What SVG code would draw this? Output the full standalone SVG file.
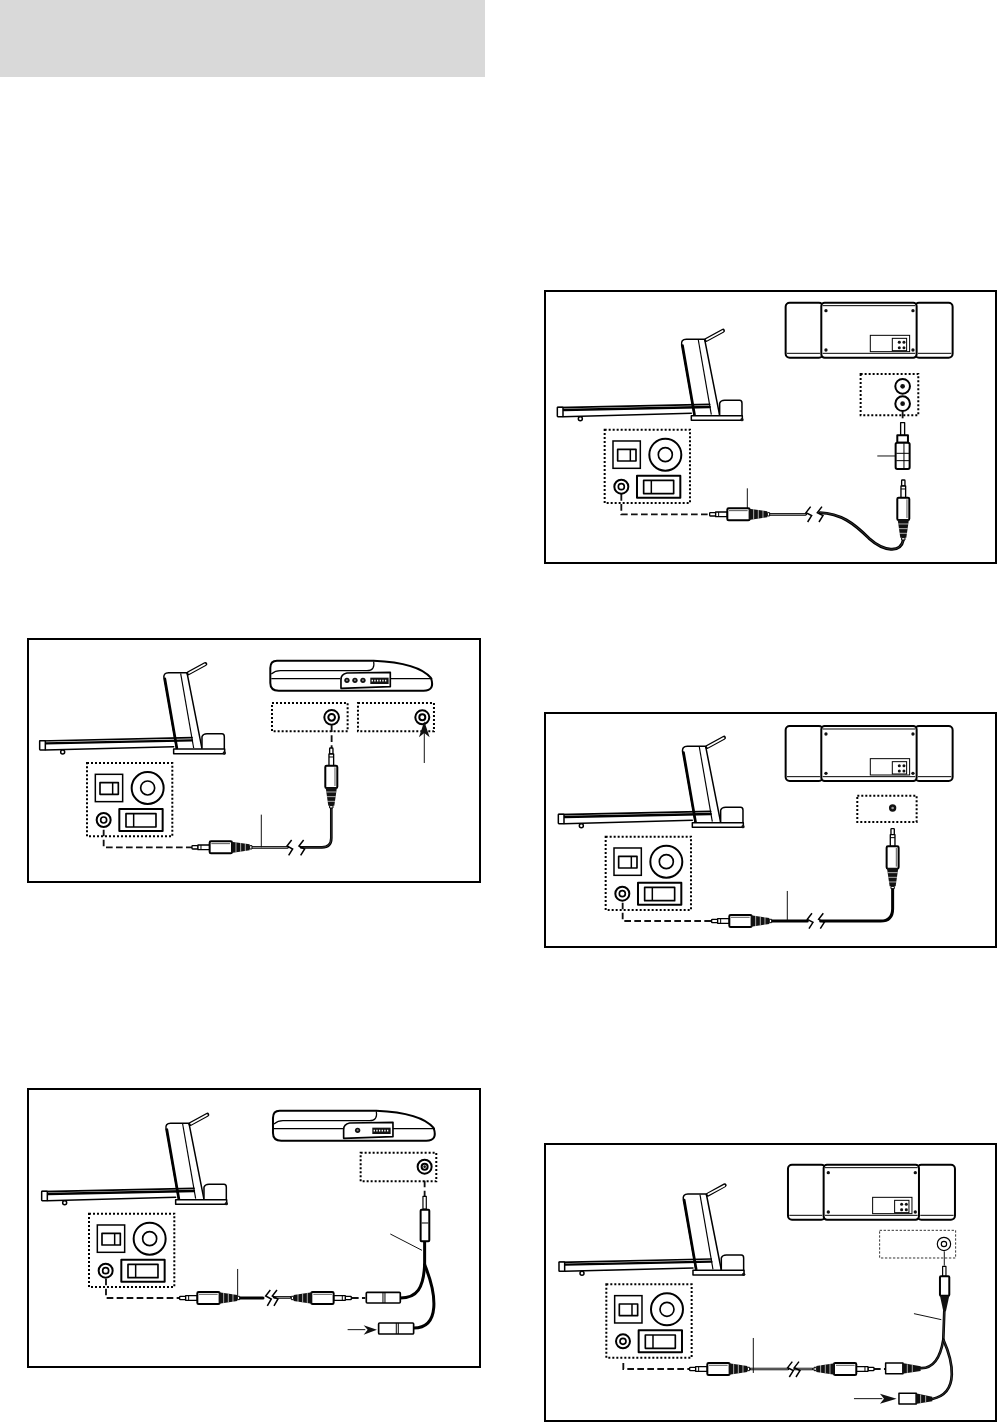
<svg xmlns="http://www.w3.org/2000/svg" xmlns:xlink="http://www.w3.org/1999/xlink" width="997" height="1422" viewBox="0 0 997 1422">
<style>
.frame{fill:#fff;stroke:#000;stroke-width:2}
.o{fill:#fff;stroke:#000;stroke-width:6;stroke-linejoin:round}
.n{fill:none;stroke:#000;stroke-width:5;stroke-linejoin:round;stroke-linecap:round}
.t{fill:none;stroke:#000;stroke-width:3}
.f{fill:#fff;stroke:#000;stroke-width:4.5;stroke-linejoin:round}
.k{fill:#111}
.dot{fill:none;stroke:#000;stroke-width:6;stroke-dasharray:6 6}
.dash{fill:none;stroke:#111;stroke-width:5.5;stroke-dasharray:20 10}
.lead{fill:none;stroke:#111;stroke-width:3}
.cb{fill:none;stroke:#000;stroke-width:8;stroke-linecap:round}
.cw{fill:none;stroke:#fff;stroke-width:2}
.cg{fill:none;stroke:#666;stroke-width:1.5}
.zig{fill:none;stroke:#000;stroke-width:4.5;stroke-linejoin:miter}
</style>
<defs>
<g id="treadmill">
<path class="n" d="M448,332L411,122Q408,104 425,104L480,104L525,332" style="stroke-width:4.5"/>
<path class="t" d="M461,106L500,330" style="stroke-width:3.5"/>
<path d="M484,106L535,78" stroke="#000" stroke-width="12" stroke-linecap="round"/>
<path d="M486,105L534,79" stroke="#fff" stroke-width="5" stroke-linecap="round"/>
<path class="n" d="M39,309L495,299" style="stroke-width:5"/>
<path class="n" d="M57,316L495,307" style="stroke-width:7"/>
<path class="n" d="M55,336L440,326" style="stroke-width:4.5"/>
<rect class="f" x="38" y="308" width="17" height="28" rx="2"/>
<circle class="f" cx="107" cy="342" r="6"/>
<path class="f" d="M525,332L525,296Q528,287 540,287L585,287Q592,287 592,296L592,340"/>
<rect class="f" x="440" y="333" width="153" height="14"/>
<circle class="k" cx="592" cy="345" r="5"/>
<path class="n" d="M414,122L450,330" style="stroke-width:7"/>
</g>
<g id="console">
<rect class="dot" x="180" y="375" width="256" height="220"/>
<rect x="205" y="409" width="82" height="82" fill="#fff" stroke="#000" stroke-width="4.5"/>
<rect class="o" x="219" y="434" width="55" height="35" style="stroke-width:5"/>
<path class="t" d="M257,434V469" style="stroke-width:4.5"/>
<circle class="o" cx="362" cy="450" r="48"/>
<circle class="o" cx="362" cy="450" r="21" style="stroke-width:5"/>
<circle class="o" cx="230" cy="546" r="21"/>
<circle class="o" cx="230" cy="546" r="9" style="stroke-width:5"/>
<rect class="o" x="277" y="513" width="130" height="66"/>
<rect class="o" x="297" y="527" width="90" height="40" style="stroke-width:5"/>
<path class="t" d="M320,527V567" style="stroke-width:4.5"/>
</g>
<g id="plug">
<rect class="f" x="0" y="-5" width="18" height="10" rx="2" style="stroke-width:4"/>
<rect class="f" x="18" y="-7" width="35" height="14" style="stroke-width:4"/>
<path class="t" d="M27,-7V7"/>
<rect class="o" x="53" y="-18" width="67" height="36" rx="4"/>
<path class="t" d="M58,-11H114" style="stroke-width:2"/>
<path class="k" d="M118,-17L173,-9V9L118,17Z"/>
<path d="M132,-15V15M146,-13V13M160,-12V12" stroke="#fff" stroke-width="2"/>
<rect class="f" x="173" y="-5" width="7" height="10" style="stroke-width:3"/>
</g>
<g id="player">
<path class="o" d="M750,68L1040,68Q1175,74 1212,120Q1225,158 1190,158L755,158Q730,158 730,135L730,90Q730,68 750,68Z"/>
<path class="t" d="M1040,70Q1045,98 1020,98L760,98Q745,98 733,108M733,122H940M1090,122H1216" style="stroke-width:3.5"/>
<path class="o" d="M1090,103L960,105Q942,108 942,125L942,151L1090,146Z" style="stroke-width:5"/>
</g>
<g id="speaker">
<rect class="o" x="725" y="38" width="112" height="165" rx="12"/>
<rect class="o" x="1113" y="38" width="113" height="165" rx="12"/>
<rect class="o" x="832" y="38" width="286" height="165" rx="10"/>
<path class="t" d="M836,47H1114M836,190H1114M729,190H828M1122,190H1222" style="stroke-width:3"/>
<circle class="k" cx="846" cy="62" r="5"/><circle class="k" cx="1107" cy="62" r="5"/>
<circle class="k" cx="846" cy="180" r="5"/><circle class="k" cx="1107" cy="180" r="5"/>
<rect fill="#fff" stroke="#000" stroke-width="3" x="979" y="136" width="118" height="49"/>
<rect fill="#fff" stroke="#000" stroke-width="3" x="1045" y="145" width="43" height="37"/>
<circle class="k" cx="1066" cy="157" r="4.5"/><circle class="k" cx="1080" cy="157" r="4.5"/>
<circle class="k" cx="1066" cy="173" r="4.5"/><circle class="k" cx="1080" cy="173" r="4.5"/>
</g>
<g id="tread-set"><use href="#treadmill"/><use href="#console"/></g>
</defs>

<rect id="header" x="0" y="0" width="485" height="77" fill="#d9d9d9"/>

<g id="frames">
<rect class="frame" x="28" y="639" width="452" height="243"/>
<rect class="frame" x="28" y="1089" width="452" height="278"/>
<rect class="frame" x="545" y="291" width="451" height="272"/>
<rect class="frame" x="545" y="713" width="451" height="234"/>
<rect class="frame" x="545" y="1144" width="451" height="277"/>
</g>

<g id="connectors">
<g transform="translate(27,638) scale(.3333)">
<path class="dash" d="M230,575V628H495"/>
<path class="dash" d="M914,262V330" stroke-dasharray="10 6"/>
<path class="cb" d="M675,628H782"/><path class="cw" d="M675,628H782"/>
<path class="cb" d="M822,628H885Q913,628 913,600V510"/><path class="cg" d="M822,628H885Q913,628 913,600V510"/>
<path class="zig" d="M794,606L780,624L797,633L785,652M830,606L816,624L833,633L821,652"/>
<path class="lead" d="M703,530V628"/>
<path class="lead" d="M1192,375V280"/>
</g>
<g transform="translate(27,1088) scale(.3333)">
<path class="dash" d="M237,572V630H458"/>
<path class="dash" d="M1193,278V325" stroke-dasharray="10 6"/>
<path class="dash" d="M975,630H1015"/>
<path class="cb" d="M635,630H708" style="stroke-width:9"/>
<path class="cb" d="M742,628H790"/><path class="cw" d="M742,628H790"/>
<path class="zig" d="M730,606L716,624L733,633L721,654M750,606L736,624L753,633L741,654"/>
<path class="cb" d="M1193,460V530C1190,600 1170,630 1120,630" style="stroke-width:9"/>
<path class="cb" d="M1193,530C1230,620 1240,720 1160,720" style="stroke-width:9"/>
<path class="lead" d="M632,543V625"/>
<path class="lead" d="M1090,438L1185,487"/>
<path class="lead" d="M962,725H1015"/>
</g>
<g transform="translate(544,290) scale(.3333)">
<path class="dash" d="M232,612V673H497"/>
<path class="dash" d="M1076,365V395" stroke-dasharray="10 6"/>
<path class="cb" d="M675,673H785"/><path class="cw" d="M675,673H785"/>
<path class="cb" d="M828,668C890,670 930,700 975,745C1020,785 1070,790 1078,750" style="stroke-width:9"/><path class="cg" d="M828,668C890,670 930,700 975,745C1020,785 1070,790 1078,750"/>
<path class="zig" d="M800,650L786,668L803,677L791,696M834,650L820,668L837,677L825,696"/>
<path class="lead" d="M610,595V660"/>
<path class="lead" d="M1000,498H1060"/>
</g>
<g transform="translate(544,712) scale(.3333)">
<path class="dash" d="M236,572V627H503"/>
<path class="cb" d="M683,627H790" style="stroke-width:9"/>
<path class="cb" d="M830,627H1010Q1046,627 1046,590V525" style="stroke-width:9"/>
<path class="zig" d="M804,604L790,622L807,631L795,650M838,604L824,622L841,631L829,650"/>
<path class="lead" d="M730,537V625"/>
</g>
<g transform="translate(544,1143) scale(.3333)">
<path class="dash" d="M238,660V678H437"/>
<path class="dash" d="M990,678H1028" stroke-dasharray="10 14"/>
<path class="lead" d="M1201,325V368"/>
<path class="cb" d="M620,678H732"/><path class="cw" d="M620,678H732"/>
<path class="cb" d="M752,678H805"/><path class="cw" d="M752,678H805"/>
<path class="zig" d="M745,656L731,674L748,683L736,702M765,656L751,674L768,683L756,702"/>
<path class="cb" d="M1201,505L1198,590C1190,640 1170,680 1125,675"/><path class="cg" d="M1201,505L1198,590C1190,640 1170,680 1125,675"/>
<path class="cb" d="M1198,590C1225,650 1250,750 1165,768"/><path class="cg" d="M1198,590C1225,650 1250,750 1165,768"/>
<path class="lead" d="M628,585V690"/>
<path class="lead" d="M1110,512L1192,530"/>
<path class="lead" d="M930,767H1015"/>
</g>
</g>

<g id="panel1" transform="translate(27,638) scale(.3333)">
<g id="p1-treadmill"><use href="#tread-set"/></g>
<g id="p1-player"><use href="#player"/>
<circle class="k" cx="960" cy="127" r="8"/><circle class="k" cx="984" cy="127" r="8"/><circle class="k" cx="1008" cy="127" r="8"/>
<circle fill="#888" cx="960" cy="127" r="3"/><circle fill="#888" cx="984" cy="127" r="3"/><circle fill="#888" cx="1008" cy="127" r="3"/>
<rect x="1030" y="119" width="55" height="19" fill="#111"/><path d="M1034,128H1082" stroke="#fff" stroke-width="5" stroke-dasharray="4 4"/>
</g>
<g id="p1-jack-a"><rect class="dot" x="735" y="195" width="227" height="85"/><circle class="o" cx="914" cy="238" r="22"/><circle class="o" cx="914" cy="238" r="10"/></g>
<g id="p1-jack-b"><rect class="dot" x="993" y="195" width="228" height="85"/><circle class="o" cx="1186" cy="238" r="21"/><circle class="o" cx="1186" cy="238" r="9"/>
<path class="k" d="M1192,250L1208,298L1192,285L1176,298Z"/></g>
<g id="p1-plug-a"><use href="#plug" transform="translate(495,628)"/></g>
<g id="p1-plug-b"><use href="#plug" transform="translate(913,330) rotate(90)"/></g>
</g>

<g id="panel2" transform="translate(27,1088) scale(.3333)">
<g id="p2-treadmill"><use href="#tread-set" transform="translate(6,2)"/></g>
<g id="p2-player"><use href="#player" transform="translate(8,0)"/>
<circle class="k" cx="992" cy="127" r="8"/><circle fill="#888" cx="992" cy="127" r="3"/>
<rect x="1036" y="119" width="55" height="19" fill="#111"/><path d="M1040,128H1088" stroke="#fff" stroke-width="5" stroke-dasharray="4 4"/>
</g>
<g id="p2-jack"><rect class="dot" x="1001" y="194" width="227" height="86"/><circle class="o" cx="1193" cy="236" r="21"/><circle class="o" cx="1193" cy="236" r="9"/><circle class="k" cx="1193" cy="236" r="4"/></g>
<g id="p2-plug-a"><use href="#plug" transform="translate(458,630)"/></g>
<g id="p2-plug-b"><use href="#plug" transform="translate(973,630) scale(-1,1)"/></g>
<g id="p2-plug-c"><rect class="f" x="1188" y="325" width="10" height="38" style="stroke-width:3.5"/><rect class="o" x="1181" y="365" width="26" height="95" rx="3"/><path class="t" d="M1184,405H1204"/></g>
<g id="p2-female-a"><rect class="f" x="1018" y="613" width="102" height="32" rx="3" style="stroke-width:5"/><path class="t" d="M1068,613V645M1074,613V645"/></g>
<g id="p2-female-b"><rect class="f" x="1055" y="705" width="105" height="33" rx="3" style="stroke-width:5"/><path class="t" d="M1108,705V738M1114,705V738"/></g>
<path class="k" d="M1050,725L1010,712L1022,725L1010,740Z"/>
</g>

<g id="panel3" transform="translate(544,290) scale(.3333)">
<g id="p3-treadmill"><use href="#tread-set" transform="translate(2,44)"/></g>
<g id="p3-speaker"><use href="#speaker"/></g>
<g id="p3-jacks"><rect class="dot" x="950" y="252" width="173" height="124"/>
<circle class="o" cx="1076" cy="289" r="22"/><circle class="k" cx="1076" cy="289" r="7"/>
<circle class="o" cx="1076" cy="341" r="22"/><circle class="k" cx="1076" cy="341" r="7"/></g>
<g id="p3-adapter"><rect class="f" x="1070" y="398" width="12" height="38" style="stroke-width:4"/><rect class="o" x="1060" y="436" width="32" height="22"/><rect class="o" x="1055" y="458" width="42" height="79" rx="5"/><path class="t" d="M1057,490H1095M1057,512H1095M1080,460V535"/></g>
<g id="p3-plug-a"><use href="#plug" transform="translate(497,673)"/></g>
<g id="p3-plug-b"><use href="#plug" transform="translate(1078,570) rotate(90)"/></g>
</g>

<g id="panel4" transform="translate(544,712) scale(.3333)">
<g id="p4-treadmill"><use href="#tread-set" transform="translate(5,-1)"/></g>
<g id="p4-speaker"><use href="#speaker" transform="translate(0,4)"/></g>
<g id="p4-jack"><rect class="dot" x="940" y="251" width="178" height="79"/><circle class="k" cx="1046" cy="288" r="11"/><circle fill="#999" cx="1046" cy="288" r="4"/></g>
<g id="p4-plug-a"><use href="#plug" transform="translate(503,627)"/></g>
<g id="p4-plug-b"><use href="#plug" transform="translate(1046,350) rotate(90)"/></g>
</g>

<g id="panel5" transform="translate(544,1143) scale(.3333)">
<g id="p5-treadmill"><use href="#tread-set" transform="translate(7,49)"/></g>
<g id="p5-speaker"><use href="#speaker" transform="translate(7,27)"/></g>
<g id="p5-jack"><rect x="1007" y="262" width="228" height="83" fill="none" stroke="#333" stroke-width="3" stroke-dasharray="7 5"/><circle fill="#fff" stroke="#000" stroke-width="3.5" cx="1200" cy="303" r="20"/><circle fill="#fff" stroke="#000" stroke-width="3.5" cx="1200" cy="303" r="8"/></g>
<g id="p5-plug-a"><use href="#plug" transform="translate(437,678)"/></g>
<g id="p5-plug-b"><use href="#plug" transform="translate(990,678) scale(-1,1)"/></g>
<g id="p5-plug-c"><rect class="f" x="1196" y="370" width="10" height="30" style="stroke-width:3.5"/><rect class="o" x="1188" y="400" width="28" height="58" rx="3"/><path class="k" d="M1188,458H1216L1206,505H1198Z"/></g>
<g id="p5-female-a"><rect class="f" x="1025" y="660" width="52" height="32"/><path class="k" d="M1075,660L1130,670V684L1075,692Z"/><path d="M1090,664V690M1105,666V688" stroke="#fff" stroke-width="2"/></g>
<g id="p5-female-b"><rect class="f" x="1065" y="751" width="52" height="32"/><path class="k" d="M1115,751L1165,761V775L1115,783Z"/><path d="M1130,755V780M1145,758V778" stroke="#fff" stroke-width="2"/></g>
<path class="k" d="M1058,767L1008,752L1020,767L1008,782Z"/>
</g>
</svg>
